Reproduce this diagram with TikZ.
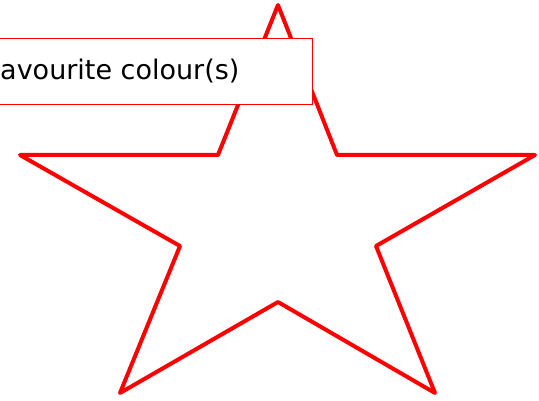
\documentclass[tikz,border=0pt]{standalone}
\usepackage{fontspec}
\setmainfont{DejaVu Sans}
\begin{document}
\begin{tikzpicture}[x=1pt, y=-1pt]

\useasboundingbox (0,0) rectangle (539,401);

% Estrella
\draw[red, line width=4pt, line join=round]
	(278,5) -- (337,155) -- (535,155) -- (376,246) -- (435,393)
	-- (278,302) -- (120,393) -- (180,246) -- (20,155) -- (218,155) -- cycle;

% Etiqueta
\node[draw=red, fill=white, line width=1pt, anchor=north east,
	minimum width=340pt, minimum height=66pt, inner sep=0pt] (F) at (313,38) {};
\node[anchor=west, inner sep=0pt, font=\fontsize{27}{32}\selectfont] (T) at (0,71) {avourite colour(s)};

\end{tikzpicture}
\end{document}
